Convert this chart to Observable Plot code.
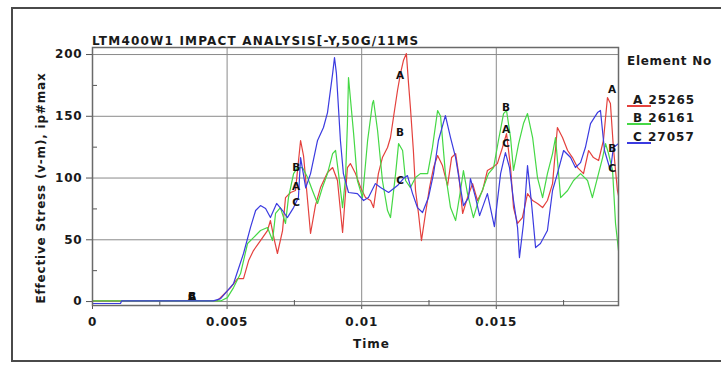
<!DOCTYPE html>
<html><head><meta charset="utf-8">
<script src="https://cdn.jsdelivr.net/npm/d3@7"></script>
<script src="https://cdn.jsdelivr.net/npm/@observablehq/plot@0.6"></script>
<style>
html,body{margin:0;padding:0;background:#fff;overflow:hidden;}
#wrap{position:relative;width:721px;height:365px;font-family:"DejaVu Sans",sans-serif;font-weight:bold;color:#1a1a1a;overflow:hidden;}
#wrap svg{position:absolute;left:0;top:0;}
#wrap svg text{letter-spacing:0.8px;}
.frame{position:absolute;left:11px;top:7px;width:720px;height:355px;border:2px solid #4a4a4a;box-sizing:border-box;}
.t{position:absolute;white-space:nowrap;font-size:12px;letter-spacing:1px;line-height:12px;}
.sw{position:absolute;height:2px;width:24px;left:627px;}
</style></head>
<body>
<div id="wrap">
  <div class="frame"></div>
</div>
<script>
// ---- data (time in s, effective stress) ----
const seriesNames = ["A", "B", "C"];
const elementIds = ["25265", "26161", "27057"];
const seriesColors = ["#e4413d", "#45d845", "#3b3be0"];

const stressA = [[0,0.5],[0.00464,0.8],[0.00513,11.3],[0.00539,18.6],[0.00561,18.6],[0.00580,33.2],[0.00598,41.3],[0.00624,49.4],[0.00650,57.5],[0.00661,65.6],[0.00676,49.4],[0.00687,38.9],[0.00706,57.5],[0.00717,84.2],[0.00736,88.3],[0.00754,89.9],[0.00773,130.4],[0.00784,118],[0.00799,81.8],[0.00810,55.1],[0.00828,77.7],[0.00847,92.3],[0.00873,104.5],[0.00892,108.5],[0.00910,98.0],[0.00929,55.9],[0.00947,108.5],[0.00958,111.7],[0.00977,103.6],[0.00996,92.3],[0.01014,84.2],[0.01033,81.8],[0.01044,76.1],[0.01062,103.6],[0.01077,116.6],[0.01096,124.7],[0.01107,132.8],[0.01118,149.0],[0.01133,170.9],[0.01144,184.6],[0.01155,195.1],[0.01166,200.8],[0.01174,176.5],[0.01181,157.1],[0.01192,122.3],[0.01200,89.9],[0.01211,71.3],[0.01222,49.4],[0.01237,71.3],[0.01252,92.3],[0.01267,108.5],[0.01282,118.2],[0.01300,110.1],[0.01319,93.9],[0.01334,116.6],[0.01349,119.8],[0.01360,103.6],[0.01375,71.3],[0.01393,84.2],[0.01412,95.5],[0.01430,81.8],[0.01449,89.9],[0.01467,106.1],[0.01486,108.5],[0.01504,111.7],[0.01523,124.7],[0.01538,136.0],[0.01553,108.5],[0.01564,76.1],[0.01579,63.2],[0.01597,68.0],[0.01616,87.4],[0.01635,81.8],[0.01653,79.4],[0.01672,76.1],[0.01690,81.8],[0.01709,95.5],[0.01727,140.9],[0.01746,132.8],[0.01765,122.3],[0.01783,116.6],[0.01802,108.5],[0.01824,103.6],[0.01843,122.3],[0.01861,116.6],[0.01880,114.2],[0.01898,130.4],[0.01906,149.0],[0.01913,165.2],[0.01924,160.3],[0.01935,124.7],[0.01950,89.9],[0.01958,81.8]];

const stressB = [[0,0.5],[0.00476,0.5],[0.00501,3.2],[0.00524,11.3],[0.00550,22.7],[0.00576,47],[0.00598,51.8],[0.00624,57.5],[0.00650,59.9],[0.00669,49.4],[0.00680,71.3],[0.00698,76.1],[0.00717,63.2],[0.00728,84.2],[0.00747,103.6],[0.00762,108.5],[0.00780,108.5],[0.00799,100.4],[0.00817,89.9],[0.00836,79.4],[0.00854,92.3],[0.00873,103.6],[0.00892,119.8],[0.00903,122.3],[0.00914,103.6],[0.00929,76.1],[0.00940,100.4],[0.00947,144.1],[0.00951,181.4],[0.00970,136.0],[0.00984,98.0],[0.01003,84.2],[0.01022,130.4],[0.01040,160.3],[0.01044,162.8],[0.01059,138.5],[0.01077,98.0],[0.01096,73.7],[0.01107,68.0],[0.01126,103.6],[0.01137,127.9],[0.01152,122.3],[0.01163,98.0],[0.01181,92.3],[0.01200,100.4],[0.01218,103.6],[0.01245,103.6],[0.01263,125],[0.01282,154.7],[0.01293,150],[0.01311,103.6],[0.01330,76.1],[0.01349,65.6],[0.01367,89.9],[0.01378,106.1],[0.01393,87.4],[0.01415,68.0],[0.01434,81.8],[0.01452,92.3],[0.01471,103.6],[0.01490,108.5],[0.01508,130.4],[0.01527,152.2],[0.01538,154.7],[0.01553,132.8],[0.01564,106.1],[0.01583,127.9],[0.01601,144.1],[0.01616,152.2],[0.01635,132.8],[0.01653,100.4],[0.01672,84.2],[0.01690,103.6],[0.01709,119.8],[0.01720,132.8],[0.01739,84.2],[0.01765,89.9],[0.01787,98.0],[0.01813,103.6],[0.01839,98.0],[0.01857,84.2],[0.01876,100.4],[0.01895,116.6],[0.01906,127.9],[0.01917,119.8],[0.01932,106.1],[0.01943,63.2],[0.01954,41.3]];

const stressC = [[0,-1.6],[0.00104,-1.6],[0.00108,0.5],[0.00449,0.5],[0.00476,2.4],[0.00524,14.6],[0.00561,38.9],[0.00587,60],[0.00606,73.7],[0.00624,77.7],[0.00643,75.3],[0.00661,68.0],[0.00684,79.4],[0.00706,73.7],[0.00724,68.0],[0.00747,76.1],[0.00765,84.2],[0.00773,116.6],[0.00792,92.0],[0.00810,103.6],[0.00836,130.4],[0.00858,140.9],[0.00873,153.0],[0.00892,184.6],[0.00899,197.5],[0.00906,185],[0.00921,130.4],[0.00932,103.6],[0.00951,88.3],[0.00984,87.4],[0.01007,81.8],[0.01025,84.2],[0.01051,95.5],[0.01070,92.3],[0.01100,88.3],[0.01133,93.9],[0.01155,99.6],[0.01170,102.0],[0.01189,87.4],[0.01207,76.1],[0.01226,72.1],[0.01248,84.2],[0.01267,103.6],[0.01285,130.4],[0.01311,150.6],[0.01330,132.8],[0.01349,116.6],[0.01367,92.3],[0.01378,77.7],[0.01397,84.2],[0.01404,99.6],[0.01423,84.2],[0.01438,69.6],[0.01467,87.4],[0.01493,60.7],[0.01516,103.6],[0.01534,120.6],[0.01549,108.5],[0.01564,81.8],[0.01579,59.9],[0.01586,35.6],[0.01601,63.2],[0.01616,110.1],[0.01631,79.4],[0.01646,43.7],[0.01664,47.0],[0.01690,57.5],[0.01709,89.9],[0.01727,103.6],[0.01750,122.3],[0.01776,116.6],[0.01794,108.5],[0.01813,112.5],[0.01831,124.7],[0.01850,144.1],[0.01876,153.0],[0.01887,154.7],[0.01902,122.3],[0.01924,106.1],[0.01935,124.7],[0.01954,127.9]];

// curve letter markers
const markerTimes = [0.00371, 0.00758, 0.01144, 0.01538, 0.01932];
const markerA = [4, 93.1, 183, 139.5, 171.7];
const markerB = [4, 108.5, 136.8, 157.1, 123.9];
const markerC = [4, 80.2, 98, 127.5, 107.7];

const xTicks = [0, 0.005, 0.01, 0.015];
const xTickLabels = ["0", "0.005", "0.01", "0.015"];
const xMinorTicks = [0.0025, 0.0075, 0.0125, 0.0175];
const yTicks = [0, 50, 100, 150, 200];
const yMinorTicks = [25, 75, 125, 175];

const titleText = "LTM400W1 IMPACT ANALYSIS[-Y,50G/11MS";
const xLabel = "Time";
const yLabel = "Effective Stress (v-m), ip#max";
const legendTitle = "Element No";

// ---- build tables ----
const rows = [
  ...stressA.map(([t, v]) => ({t, v, s: "A"})),
  ...stressB.map(([t, v]) => ({t, v, s: "B"})),
  ...stressC.map(([t, v]) => ({t, v, s: "C"}))
];
const markers = [];
[markerA, markerB, markerC].forEach((arr, k) => {
  arr.forEach((v, i) => markers.push({t: markerTimes[i], v, s: seriesNames[k]}));
});
// B drawn last so it shows on top at the overlapping spot
markers.sort((a, b) => (a.s === "B") - (b.s === "B"));

const chart = Plot.plot({
  width: 721, height: 365,
  marginLeft: 92, marginRight: 103, marginTop: 47, marginBottom: 60,
  x: {domain: [0, 0.01954]},
  y: {domain: [-3.2, 205.7]},
  color: {domain: seriesNames, range: seriesColors},
  style: {fontFamily: "DejaVu Sans", fontWeight: "bold", fontSize: "12px", color: "#1a1a1a", background: "transparent", overflow: "visible"},
  marks: [
    Plot.gridX(xTicks.slice(1), {stroke: "#8a8a8a", strokeOpacity: 1}),
    Plot.gridY(yTicks, {stroke: "#8a8a8a", strokeOpacity: 1}),
    Plot.tickX(xMinorTicks, {x: d => d, stroke: "#555", insetTop: 253}),
    Plot.tickY(yMinorTicks, {y: d => d, stroke: "#555", insetRight: 521}),
    Plot.axisX(xTicks, {tickSize: 4, tickPadding: 8, tickFormat: (d, i) => xTickLabels[i], label: null, stroke: "#555"}),
    Plot.axisY(yTicks, {tickSize: 6, tickPadding: 4, label: null, stroke: "#555"}),
    Plot.line(rows, {x: "t", y: "v", z: "s", stroke: "s", strokeWidth: 1.2, clip: true}),
    Plot.text(markers, {x: "t", y: "v", text: "s", fill: "#111", fontWeight: "bold", fontSize: 10.5}),
    Plot.frame({stroke: "#6a6a6a", strokeWidth: 1.5})
  ]
});
const wrap = document.getElementById("wrap");
wrap.appendChild(chart);

function addText(txt, style) {
  const d = document.createElement("div");
  d.className = "t";
  d.textContent = txt;
  Object.assign(d.style, style);
  wrap.appendChild(d);
  return d;
}
addText(titleText, {left: "92px", top: "35px", letterSpacing: "1.2px"});
addText(xLabel, {left: "353px", top: "338px"});
addText(yLabel, {left: "41px", top: "188px", transform: "translate(-50%,-50%) rotate(-90deg)", letterSpacing: "0.8px"});
addText(legendTitle, {left: "627px", top: "55px", letterSpacing: "0.7px"});
const legendTops = [94, 112, 131];
seriesNames.forEach((s, i) => {
  addText(s + " " + elementIds[i], {left: "633px", top: legendTops[i] + "px"});
  const sw = document.createElement("div");
  sw.className = "sw";
  sw.style.top = (legendTops[i] + 11) + "px";
  sw.style.background = seriesColors[i];
  wrap.appendChild(sw);
});
</script>
</body></html>
